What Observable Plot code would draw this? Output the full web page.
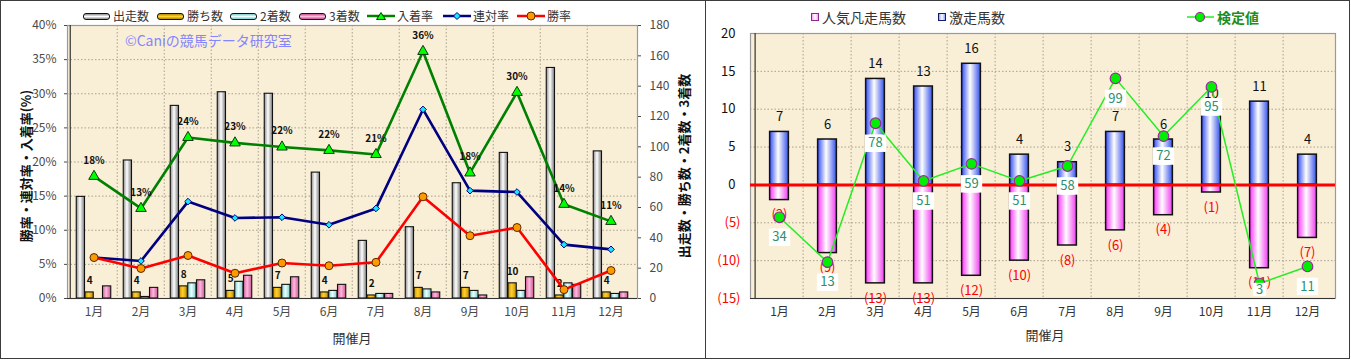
<!DOCTYPE html>
<html><head><meta charset="utf-8">
<script src="https://cdn.jsdelivr.net/npm/d3@7"></script>
<script src="https://cdn.jsdelivr.net/npm/@observablehq/plot@0.6"></script>
<style>
html,body{margin:0;padding:0;background:#fff;}
body{font-family:"Noto Sans CJK JP","Noto Sans",sans-serif;}
#wrap{position:relative;width:1351px;height:360px;overflow:hidden;background:#fff;}
.panel{position:absolute;top:0;height:359px;box-sizing:border-box;border:1px solid #3c3c3c;}
.abs{position:absolute;white-space:nowrap;line-height:1;}
.plot{position:absolute;top:0;}
.leg{position:absolute;display:flex;align-items:center;white-space:nowrap;line-height:1;}
.bsw{display:inline-block;width:25px;height:5px;border:1px solid #111;border-radius:3px;margin-right:3px;}
.sq{display:inline-block;width:6px;height:6px;margin-right:3px;}
</style></head><body>
<svg width="0" height="0" style="position:absolute">
<defs>
<linearGradient id="gStart" x1="0" x2="1" y1="0" y2="0"><stop offset="0" stop-color="#8c8c8c"/><stop offset="0.45" stop-color="#ffffff"/><stop offset="1" stop-color="#7a7a7a"/></linearGradient>
<linearGradient id="gWin" x1="0" x2="1" y1="0" y2="0"><stop offset="0" stop-color="#c99500"/><stop offset="0.45" stop-color="#ffcf2e"/><stop offset="1" stop-color="#c08a00"/></linearGradient>
<linearGradient id="g2nd" x1="0" x2="1" y1="0" y2="0"><stop offset="0" stop-color="#86d2d2"/><stop offset="0.45" stop-color="#e6ffff"/><stop offset="1" stop-color="#7fcaca"/></linearGradient>
<linearGradient id="g3rd" x1="0" x2="1" y1="0" y2="0"><stop offset="0" stop-color="#d4609e"/><stop offset="0.45" stop-color="#ffb8dc"/><stop offset="1" stop-color="#c85896"/></linearGradient>
<linearGradient id="gBlue" x1="0" x2="1" y1="0" y2="0"><stop offset="0" stop-color="#2f4cff"/><stop offset="0.45" stop-color="#ffffff"/><stop offset="1" stop-color="#3552ea"/></linearGradient>
<linearGradient id="gPink" x1="0" x2="1" y1="0" y2="0"><stop offset="0" stop-color="#ff2cff"/><stop offset="0.45" stop-color="#ffffff"/><stop offset="1" stop-color="#f03cf0"/></linearGradient>
</defs></svg>
<div id="wrap">
  <div class="panel" style="left:0;width:706px;"></div>
  <div class="panel" style="left:705px;width:645px;"></div>
</div>
<script>
// ---------- data (left chart) ----------
const months = ["1月","2月","3月","4月","5月","6月","7月","8月","9月","10月","11月","12月"];
const starters = [67, 91, 127, 136, 135, 83, 38, 47, 76, 96, 152, 97];     // 出走数
const wins     = [4, 4, 8, 5, 7, 4, 2, 7, 7, 10, 2, 4];                      // 勝ち数
const seconds  = [0, 1, 10, 11, 9, 5, 3, 6, 5, 5, 10, 3];                    // 2着数
const thirds   = [8, 7, 12, 15, 14, 9, 3, 4, 2, 14, 9, 4];                   // 3着数
const placeRate    = [17.9, 13.2, 23.6, 22.8, 22.2, 21.7, 21.1, 36.2, 18.4, 30.2, 13.8, 11.3]; // 入着率
const placeLabels  = [18, 13, 24, 23, 22, 22, 21, 36, 18, 30, 14, 11];
const quinellaRate = [6.0, 5.5, 14.2, 11.8, 11.9, 10.8, 13.2, 27.7, 15.8, 15.6, 7.9, 7.2]; // 連対率
const winRate      = [6.0, 4.4, 6.3, 3.7, 5.2, 4.8, 5.3, 14.9, 9.2, 10.4, 1.3, 4.1];      // 勝率
const leftTicks  = [0, 5, 10, 15, 20, 25, 30, 35, 40];
const rightTicks = [0, 20, 40, 60, 80, 100, 120, 140, 160, 180];

// ---------- data (right chart) ----------
const upsets = [7, 6, 14, 13, 16, 4, 3, 7, 6, 10, 11, 4];     // 激走馬数
const flops  = [2, 9, 13, 13, 12, 10, 8, 6, 4, 1, 11, 7];     // 人気凡走馬数
const scores = [34, 13, 78, 51, 59, 51, 58, 99, 72, 95, 3, 11]; // 検定値
const right2Ticks = [-15, -10, -5, 0, 5, 10, 15, 20];
const scoreAxisDomain = [-4, 120]; // hidden secondary axis of 検定値

const FONT = '"Noto Sans CJK JP","Noto Sans",sans-serif';
const wrap = document.getElementById("wrap");
function put(el, x, y){ el.classList.add("plot"); el.style.left = x+"px"; el.style.top = y+"px"; wrap.appendChild(el); }
function html(s, css){ const d=document.createElement("div"); d.className="abs"; d.innerHTML=s; d.style.cssText+=css; wrap.appendChild(d); return d; }

// ================= LEFT CHART =================
{
  const W=705, H=360, ml=67, mr=68, mt=25, mb=62;
  const band = (W-ml-mr)/12;
  const gpad = 6.25, bw = 8.75;
  const leftMax = 40, rightMax = 180;
  const toLeft = v => v*leftMax/rightMax;
  const rows = months.map((m,j)=>({month:m, starters:starters[j], wins:wins[j], seconds:seconds[j], thirds:thirds[j],
    place:placeRate[j], placeLabel:placeLabels[j], quin:quinellaRate[j], win:winRate[j]}));
  const series = [["starters","url(#gStart)"],["wins","url(#gWin)"],["seconds","url(#g2nd)"],["thirds","url(#g3rd)"]];
  const bars = series.map(([k,fill],i)=>Plot.rectY(rows.filter(r=>r[k]>0), {
    x:"month", y1:0, y2:r=>toLeft(r[k]), fill, stroke:"#111", strokeWidth:1.1,
    insetLeft: gpad+i*bw, insetRight: band-gpad-(i+1)*bw}));
  const grid = {stroke:"#9c9482", strokeOpacity:0.85, strokeDasharray:"1.5,2", strokeWidth:1};
  const p = Plot.plot({
    width:W, height:H, marginLeft:ml, marginRight:mr, marginTop:mt, marginBottom:mb,
    x:{type:"band", domain:months, padding:0},
    y:{domain:[0,leftMax]},
    style:{fontFamily:FONT, fontSize:"12px", color:"#4a4a4a", background:"none", overflow:"visible"},
    marks:[
      Plot.frame({fill:"#f9eed6", stroke:null}),
      Plot.gridY(leftTicks.slice(1,-1), grid),
      Plot.ruleX(months.slice(1), {dx:-band/2, ...grid}),
      Plot.frame({stroke:"#9a9a9a", strokeWidth:1.2}),
      ...bars,
      Plot.ruleY([0], {stroke:"#333", strokeWidth:1.2}),
      Plot.ruleX([months[0]], {dx:-band/2, stroke:"#333", strokeWidth:1.2}),
      Plot.text(rows, {x:"month", y:r=>toLeft(r.wins), text:r=>String(r.wins), dx:gpad+1.5*bw-band/2, dy:-12,
        fontSize:10, fontWeight:"bold", fill:"#111"}),
      Plot.line(rows, {x:"month", y:"place", stroke:"#008000", strokeWidth:2.6}),
      Plot.dot(rows, {x:"month", y:"place", symbol:"triangle", r:3.9, fill:"#00ff00", stroke:"#0a3a0a", strokeWidth:1}),
      Plot.line(rows, {x:"month", y:"quin", stroke:"#000080", strokeWidth:2.6}),
      Plot.dot(rows, {x:"month", y:"quin", symbol:"diamond2", r:3, fill:"#19e6ff", stroke:"#000080", strokeWidth:1}),
      Plot.line(rows, {x:"month", y:"win", stroke:"#ff0000", strokeWidth:2.6}),
      Plot.dot(rows, {x:"month", y:"win", r:4, fill:"#ff9900", stroke:"#5a2a00", strokeWidth:1}),
      Plot.text(rows, {x:"month", y:"place", text:r=>r.placeLabel+"%", dy:-16, fontSize:10, fontWeight:"bold", fill:"#111"}),
      Plot.axisY(leftTicks, {anchor:"left", tickFormat:d=>d+"%", tickSize:3, tickPadding:8, fontSize:12, label:null}),
      Plot.axisY(rightTicks.map(toLeft), {anchor:"right", tickFormat:d=>String(Math.round(d*rightMax/leftMax)), tickSize:3, tickPadding:9, fontSize:12, label:null}),
      Plot.axisX({anchor:"bottom", tickSize:0, tickPadding:9, fontSize:12, label:null})
    ]
  });
  put(p, 0, 0);

  html("勝率・連対率・入着率(%)", "left:25px;top:166px;font-size:13px;font-weight:bold;color:#111;transform:translate(-50%,-50%) rotate(-90deg);");
  html("出走数・勝ち数・2着数・3着数", "left:683px;top:166px;font-size:13px;font-weight:bold;color:#111;transform:translate(-50%,-50%) rotate(-90deg);");
  html("開催月", "left:352px;top:337px;font-size:13px;color:#333;transform:translate(-50%,-50%);");
  html("©Caniの競馬データ研究室", "left:125px;top:33px;font-size:14px;color:#8585ff;");

  const barLeg = [["出走数",83,"linear-gradient(#8c8c8c,#fff,#8c8c8c)"],["勝ち数",157,"linear-gradient(#b58600,#ffd230,#b58600)"],
                  ["2着数",230,"linear-gradient(#7cc8c8,#eaffff,#7cc8c8)"],["3着数",299,"linear-gradient(#c4508e,#ffbade,#c4508e)"]];
  for (const [t,x,g] of barLeg){
    const d=document.createElement("div"); d.className="leg"; d.style.cssText=`left:${x}px;top:10px;font-size:12px;color:#333;`;
    d.innerHTML=`<span class="bsw" style="background:${g}"></span>${t}`; wrap.appendChild(d);
  }
  const lineLeg = [["入着率",367,"#008000",'<path d="M14,2.5 L18.5,9.5 L9.5,9.5 Z" fill="#00ff00" stroke="#0a3a0a" stroke-width="1"/>'],
                   ["連対率",443,"#000080",'<path d="M14,2.5 L17.5,6 L14,9.5 L10.5,6 Z" fill="#19e6ff" stroke="#000080" stroke-width="1"/>'],
                   ["勝率",517,"#ff0000",'<circle cx="14" cy="6" r="4" fill="#ff9900" stroke="#5a2a00" stroke-width="1"/>']];
  for (const [t,x,c,sym] of lineLeg){
    const d=document.createElement("div"); d.className="leg"; d.style.cssText=`left:${x}px;top:10px;font-size:12px;color:#333;`;
    d.innerHTML=`<svg width="28" height="12" style="margin-right:2px"><line x1="0" x2="28" y1="6" y2="6" stroke="${c}" stroke-width="2.5"/>${sym}</svg>${t}`;
    wrap.appendChild(d);
  }
}

// ================= RIGHT CHART =================
{
  const X0=705, W=646, H=360, ml=45, mr=16, mt=33, mb=62;
  const band = (W-ml-mr)/12;
  const barInset = (band-19.5)/2;
  const yMin = right2Ticks[0], yMax = right2Ticks[right2Ticks.length-1];
  const pxPerUnit = (H-mt-mb)/(yMax-yMin);
  const toPrimary = d3.scaleLinear().domain(scoreAxisDomain).range([yMin, yMax]);
  const labelOff = 20, boxHalf = 9;
  const rows = months.map((m,j)=>{
    const sy = toPrimary(scores[j]);
    // data label sits 20px below the point, but is kept inside the plot area
    const ly = Math.max(sy - labelOff/pxPerUnit, yMin + boxHalf/pxPerUnit);
    return {month:m, up:upsets[j], flop:flops[j], score:scores[j], sy, ly};
  });
  const wide = rows.filter(r=>String(r.score).length>1);
  const narrow = rows.filter(r=>String(r.score).length===1);
  const grid = {stroke:"#9c9482", strokeOpacity:0.85, strokeDasharray:"1.5,2", strokeWidth:1};
  const p = Plot.plot({
    width:W, height:H, marginLeft:ml, marginRight:mr, marginTop:mt, marginBottom:mb,
    x:{type:"band", domain:months, padding:0},
    y:{domain:[yMin,yMax]},
    style:{fontFamily:FONT, fontSize:"13px", color:"#111", background:"none", overflow:"visible"},
    marks:[
      Plot.frame({fill:"#f9eed6", stroke:null}),
      Plot.gridY(right2Ticks.filter(d=>d!==yMin && d!==yMax && d!==0), grid),
      Plot.ruleX(months.slice(1), {dx:-band/2, ...grid}),
      Plot.frame({stroke:"#9a9a9a", strokeWidth:1.2}),
      Plot.rectY(rows, {x:"month", y1:0, y2:"up", fill:"url(#gBlue)", stroke:"#111", strokeWidth:1.5, insetLeft:barInset, insetRight:barInset}),
      Plot.rectY(rows, {x:"month", y1:0, y2:r=>-r.flop, fill:"url(#gPink)", stroke:"#111", strokeWidth:1.5, insetLeft:barInset, insetRight:barInset}),
      Plot.ruleY([yMin], {stroke:"#333", strokeWidth:1.2}),
      Plot.ruleX([months[0]], {dx:-band/2, stroke:"#333", strokeWidth:1.2}),
      Plot.text(rows, {x:"month", y:"up", text:r=>String(r.up), dy:-15, fontSize:13, fill:"#111"}),
      Plot.text(rows, {x:"month", y:r=>-r.flop, text:r=>`(${r.flop})`, dy:15, fontSize:13, fill:"#ff0000"}),
      Plot.ruleY([0], {stroke:"#ff0000", strokeWidth:3}),
      Plot.line(rows, {x:"month", y:"sy", stroke:"#22ee22", strokeWidth:1.5}),
      Plot.dot(rows, {x:"month", y:"sy", r:5.3, fill:"#00ee00", stroke:"#9a2a9a", strokeWidth:1.2}),
      Plot.dot(wide, {x:"month", y:"ly", symbol:"square", r:9.8, fill:"#fff", dx:-2}),
      Plot.dot(wide, {x:"month", y:"ly", symbol:"square", r:9.8, fill:"#fff", dx:2}),
      Plot.dot(narrow, {x:"month", y:"ly", symbol:"square", r:7.5, fill:"#fff"}),
      Plot.text(rows, {x:"month", y:"ly", text:r=>String(r.score), fontSize:13, fill:"#2f8f6f"}),
      Plot.axisY(right2Ticks.filter(d=>d>=0), {anchor:"left", tickFormat:d=>String(d), tickSize:0, tickPadding:15, fontSize:13, fill:"#111", label:null}),
      Plot.axisY(right2Ticks.filter(d=>d<0), {anchor:"left", tickFormat:d=>`(${-d})`, tickSize:0, tickPadding:10, fontSize:13, fill:"#ff0000", label:null}),
      Plot.axisX({anchor:"bottom", tickSize:0, tickPadding:9, fontSize:12, fill:"#333", label:null})
    ]
  });
  put(p, X0, 0);

  html("開催月", "left:1045px;top:334px;font-size:13px;color:#333;transform:translate(-50%,-50%);");
  const l1=document.createElement("div"); l1.className="leg"; l1.style.cssText="left:811px;top:10px;font-size:14px;color:#333;";
  l1.innerHTML='<span class="sq" style="border:1px solid #8a2a8a;background:linear-gradient(90deg,#ff9cff,#fff,#ff9cff)"></span>人気凡走馬数'; wrap.appendChild(l1);
  const l2=document.createElement("div"); l2.className="leg"; l2.style.cssText="left:938px;top:10px;font-size:14px;color:#333;";
  l2.innerHTML='<span class="sq" style="border:1px solid #1a1a6a;background:linear-gradient(90deg,#8fa0ff,#fff,#8fa0ff)"></span>激走馬数'; wrap.appendChild(l2);
  const l3=document.createElement("div"); l3.className="leg"; l3.style.cssText="left:1187px;top:10px;font-size:14px;color:#1d8f1d;font-weight:bold;";
  l3.innerHTML='<svg width="27" height="14" style="margin-right:3px"><line x1="0" x2="27" y1="7" y2="7" stroke="#22ee22" stroke-width="1.5"/><circle cx="13" cy="7" r="4.5" fill="#00ee00" stroke="#9a2a9a" stroke-width="1.2"/></svg>検定値'; wrap.appendChild(l3);
}
</script>
</body></html>
